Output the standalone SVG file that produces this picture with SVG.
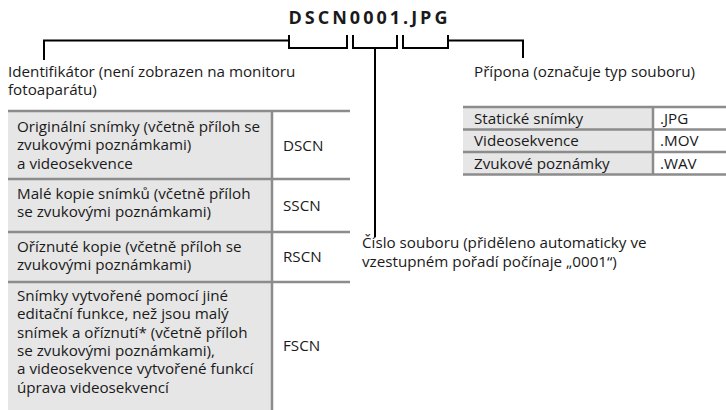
<svg xmlns="http://www.w3.org/2000/svg" width="726" height="410" viewBox="0 0 726 410">
<style>
text{font-family:"Open Sans","Noto Sans",sans-serif;font-size:15.2px;fill:#1a1a1a}
.title{font-weight:bold;font-size:18px;letter-spacing:3px}
.ln{fill:none;stroke:#000;stroke-width:2}
.cell{fill:#e6e6e6}
.white{fill:#fff}
.bd{stroke:#8c8c8c;stroke-width:2.5;fill:none}
</style>
<rect width="726" height="410" fill="#fff"/>
<g id="title"><text class="title" x="369.5" y="24" text-anchor="middle">DSCN0001.JPG</text></g>
<g id="connectors">
<path class="ln" d="M44,60 V40.5 H289"/>
<path class="ln" d="M289,35 V48 H347 V35"/>
<path class="ln" d="M353,35 V48 H397 V35"/>
<path class="ln" d="M375,48 V237"/>
<path class="ln" d="M403,35 V48 H448 V35"/>
<path class="ln" d="M448,40.5 H523 V58"/>
</g>
<g id="label-identifier">
<text x="8" y="77">Identifikátor (není zobrazen na monitoru</text>
<text x="8" y="95">fotoaparátu)</text>
</g>
<g id="label-extension"><text x="474" y="77">Přípona (označuje typ souboru)</text></g>
<g id="label-number">
<text x="362" y="248">Číslo souboru (přiděleno automaticky ve</text>
<text x="362" y="267">vzestupném pořadí počínaje „0001“)</text>
</g>
<g id="table-identifier">
<rect class="cell" x="8" y="111" width="264" height="299"/>
<rect class="white" x="272" y="111" width="78" height="299"/>
<path class="bd" d="M8,111 H350 M8,179 H350 M8,232 H350 M8,282 H350 M272,111 V410"/>
<g id="row-dscn">
<text x="17" y="132">Originální snímky (včetně příloh se</text>
<text x="17" y="150.3">zvukovými poznámkami)</text>
<text x="17" y="168.6">a videosekvence</text>
<text x="283" y="151">DSCN</text>
</g>
<g id="row-sscn">
<text x="17" y="199">Malé kopie snímků (včetně příloh</text>
<text x="17" y="217.3">se zvukovými poznámkami)</text>
<text x="283" y="211">SSCN</text>
</g>
<g id="row-rscn">
<text x="17" y="252">Oříznuté kopie (včetně příloh se</text>
<text x="17" y="270.3">zvukovými poznámkami)</text>
<text x="283" y="262">RSCN</text>
</g>
<g id="row-fscn">
<text x="17" y="301">Snímky vytvořené pomocí jiné</text>
<text x="17" y="319.3">editační funkce, než jsou malý</text>
<text x="17" y="337.6">snímek a oříznutí* (včetně příloh</text>
<text x="17" y="355.9">se zvukovými poznámkami),</text>
<text x="17" y="374.2">a videosekvence vytvořené funkcí</text>
<text x="17" y="392.5">úprava videosekvencí</text>
<text x="283" y="351">FSCN</text>
</g>
</g>
<g id="table-extension">
<rect class="cell" x="463" y="107" width="190" height="67.5"/>
<rect class="white" x="653" y="107" width="73" height="67.5"/>
<path class="bd" d="M463,107 H726 M463,129.5 H726 M463,152 H726 M463,174.5 H726 M653,107 V174.5"/>
<g id="row-jpg"><text x="474" y="123.6">Statické snímky</text><text x="660" y="123.6">.JPG</text></g>
<g id="row-mov"><text x="474" y="146.1">Videosekvence</text><text x="660" y="146.1">.MOV</text></g>
<g id="row-wav"><text x="474" y="168.6">Zvukové poznámky</text><text x="660" y="168.6">.WAV</text></g>
</g>
</svg>
